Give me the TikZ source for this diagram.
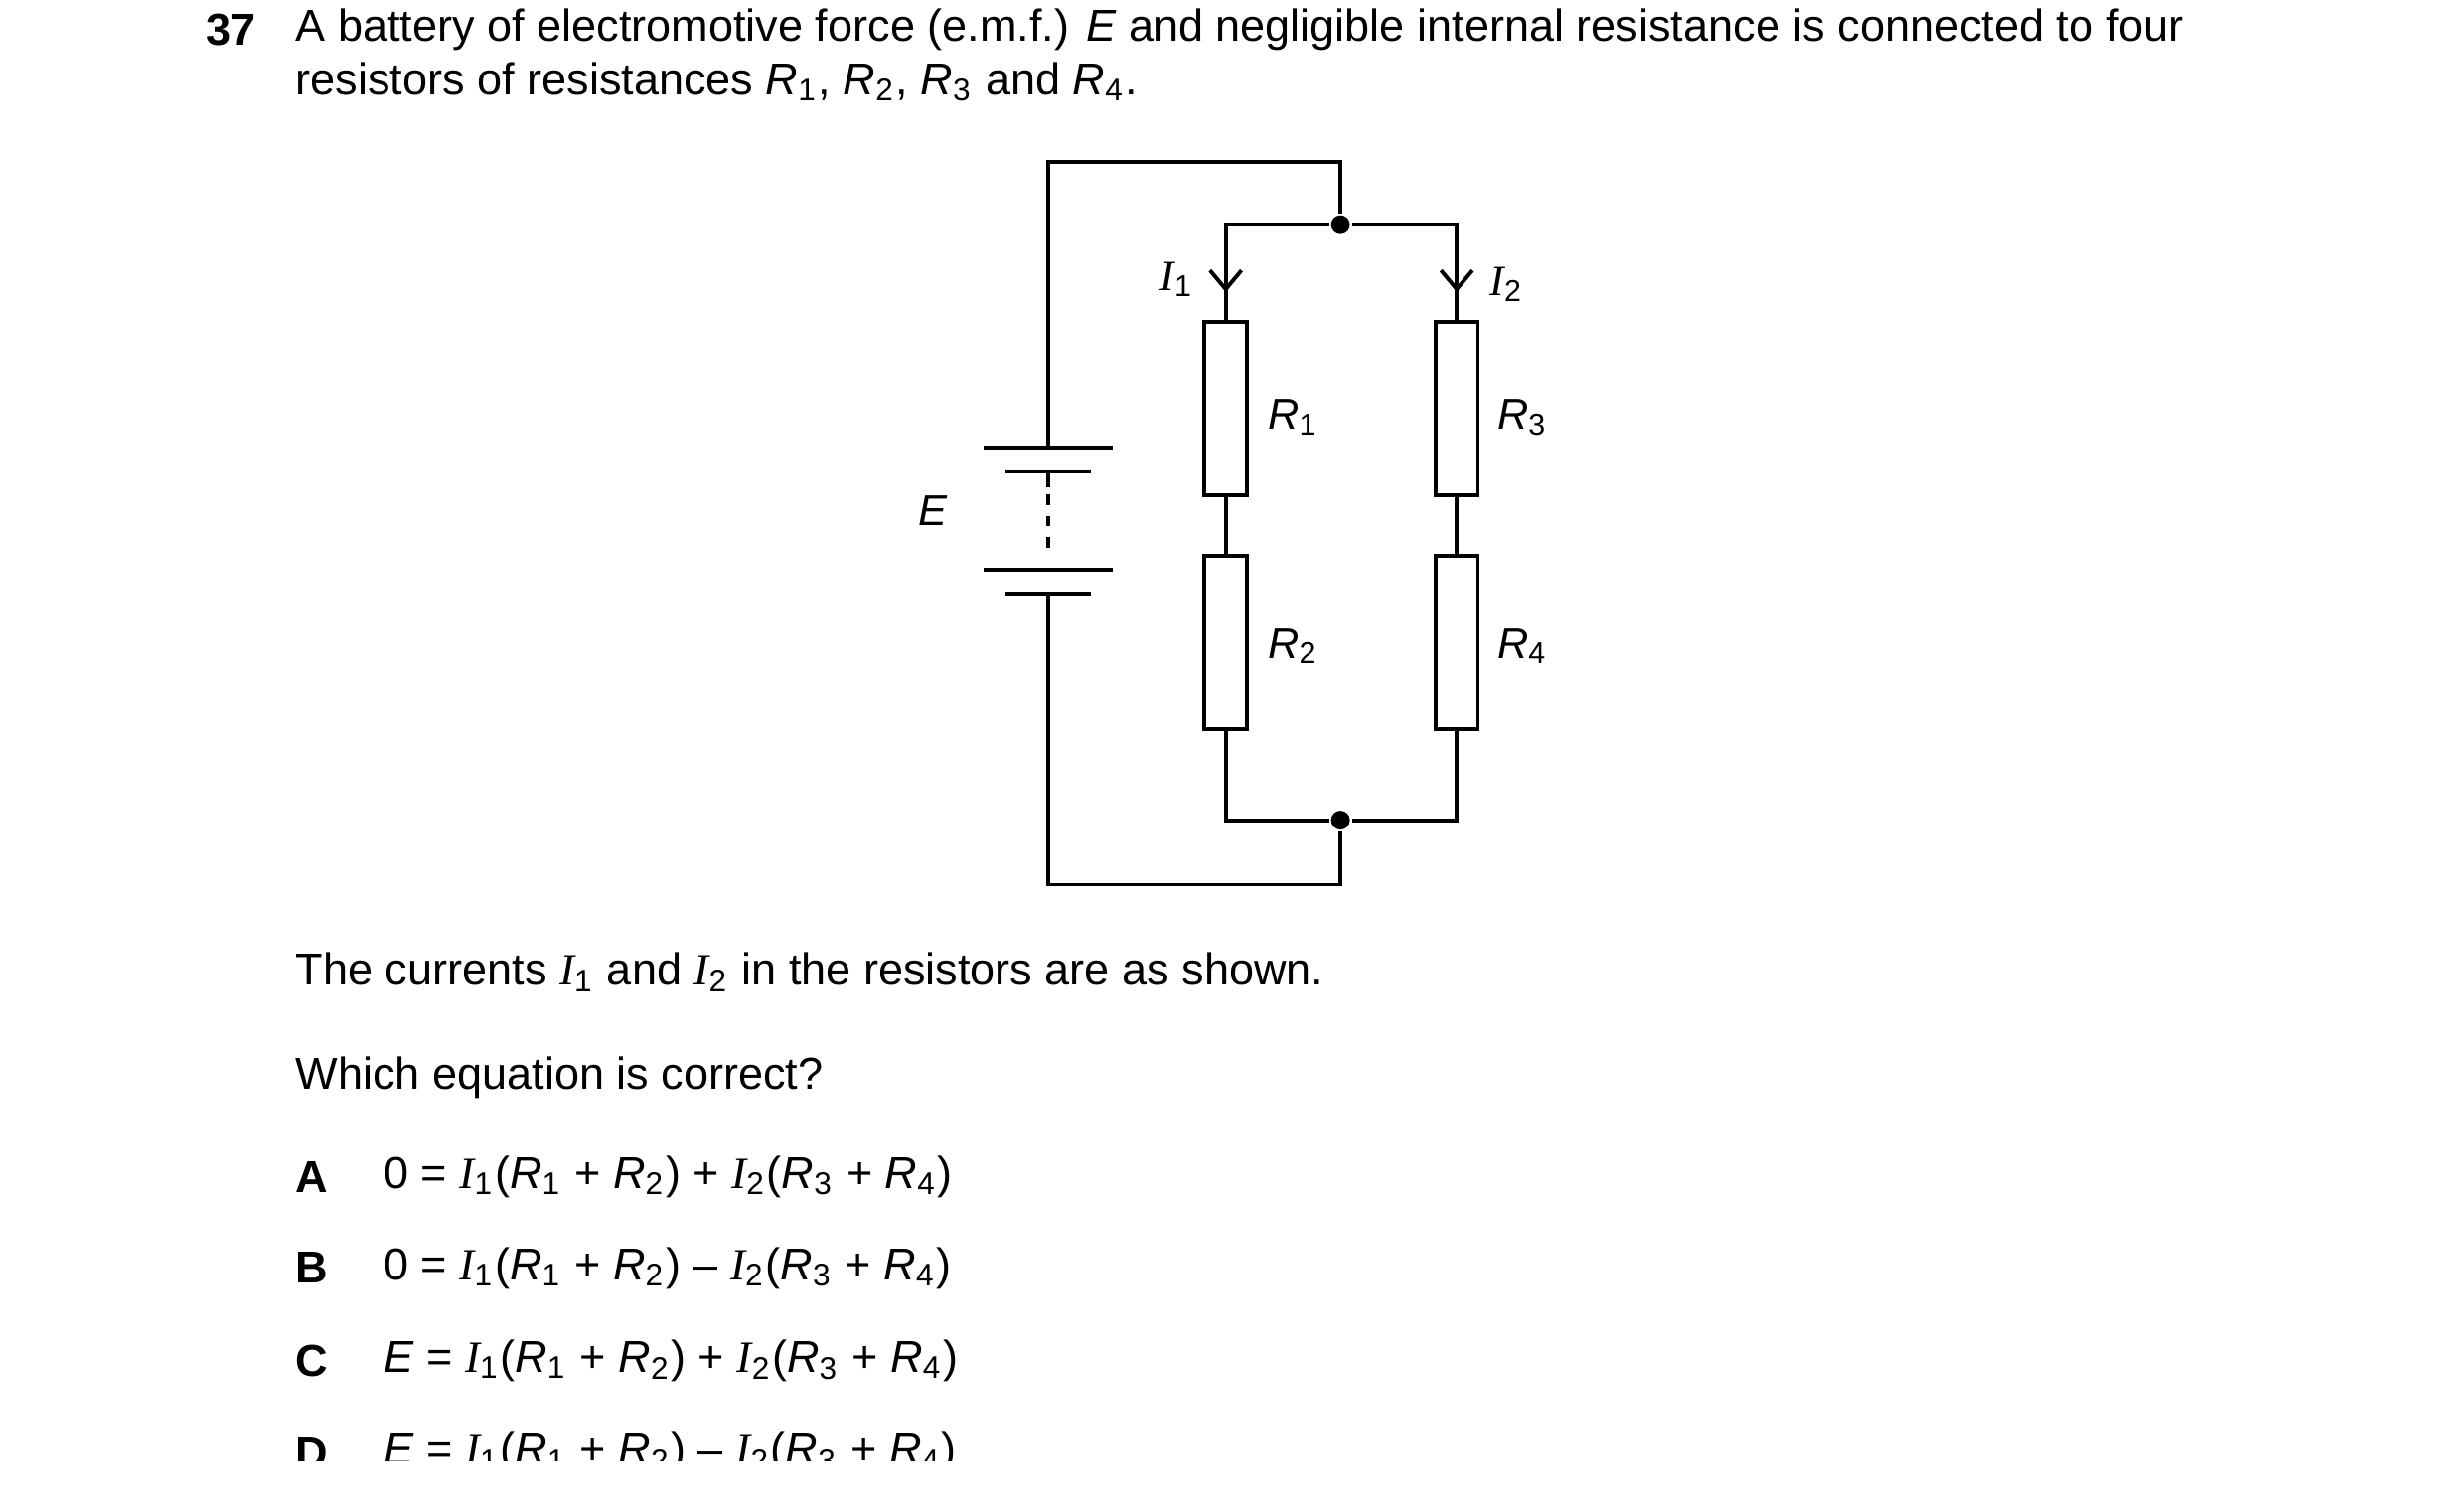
\documentclass[tikz,border=0pt]{standalone}
\usepackage{fontspec}
\setmainfont{Liberation Sans}
\newfontfamily\curfont{Liberation Serif}
\usetikzlibrary{arrows.meta}
\newcommand{\cur}[1]{{\curfont\itshape I}\textsubscript{#1}}
\newcommand{\res}[1]{\textit{R}\textsubscript{#1}}
\begin{document}
\begin{tikzpicture}[x=0.01cm,y=-0.01cm,line width=0.7pt,
    txt/.style = {anchor=west, inner sep=0pt, font=\fontsize{8.1}{9}\selectfont},
    lbl/.style = {inner sep=0pt, font=\fontsize{7.8}{9}\selectfont},
    resistor/.style = {draw, fill=white, minimum width=0.27cm, minimum height=1.1cm, inner sep=0pt},
    dot/.style = {circle, fill, inner sep=0pt, minimum size=0.12cm},
    flow/.style = {-{Straight Barb[length=0.12cm,width=0.2cm]}}]
\useasboundingbox (0,0) rectangle (1568,955);
\clip (0,0) rectangle (1568,930);
% question text
\node[txt, font=\fontsize{8.1}{9}\selectfont\bfseries] (num) at (130,19) {37};
\node[txt] (q1) at (187,19) {A battery of electromotive force (e.m.f.) \textit{E} and negligible internal resistance is connected to four};
\node[txt] (q2) at (187,52) {resistors of resistances \res{1}, \res{2}, \res{3} and \res{4}.};
% circuit
\coordinate (tl) at (667,103);
\coordinate (tr) at (853,103);
\node[dot] (top) at (853,143) {};
\node[dot] (bot) at (853,522) {};
\coordinate (bl) at (667,563);
\coordinate (br) at (853,563);
\node[resistor] (r1) at (780,260) {};
\node[resistor] (r2) at (780,409) {};
\node[resistor] (r3) at (927,260) {};
\node[resistor] (r4) at (927,409) {};
\coordinate (c1) at (667,285);
\coordinate (c2) at (667,378);
\draw (c1) -- (tl) -- (tr) -- (top);
\draw (r1.north) |- (top) -| (r3.north);
\draw (r1.south) -- (r2.north);
\draw (r3.south) -- (r4.north);
\draw (r2.south) |- (bot) -| (r4.south);
\draw (bot) -- (br) -- (bl) -- (c2);
% battery
\draw (626,285) -- (708,285);
\draw (640,300) -- (694,300);
\draw (667,300) -- (667,310);
\draw[dash pattern=on 0.07cm off 0.07cm] (667,314) -- (667,355);
\draw (626,363) -- (708,363);
\draw (640,378) -- (694,378);
% currents
\draw[flow] (780,160) -- (780,186);
\draw[flow] (927,160) -- (927,186);
\node[lbl] (i1) at (749,178) {\cur{1}};
\node[lbl] (i2) at (959,181) {\cur{2}};
\node[lbl] (l1) at (823,266) {\res{1}};
\node[lbl] (l3) at (969,266) {\res{3}};
\node[lbl] (l2) at (823,411) {\res{2}};
\node[lbl] (l4) at (969,411) {\res{4}};
\node[lbl] (e) at (594,325) {\textit{E}};
% rest of the question
\node[txt] (q3) at (187,619) {The currents \cur{1} and \cur{2} in the resistors are as shown.};
\node[txt] (q4) at (187,686) {Which equation is correct?};
\foreach \y/\k/\lhs/\op in {749/A/0/+, 807/B/0/--, 866/C/\textit{E}/+, 925/D/\textit{E}/--}{
  \node[txt, font=\fontsize{8.1}{9}\selectfont\bfseries] (opt\k) at (187,\y) {\k};
  \node[txt] (eq\k) at (243,\y) {\lhs{} = \cur{1}(\res{1} + \res{2}) \op{} \cur{2}(\res{3} + \res{4})};
}
\end{tikzpicture}
\end{document}
